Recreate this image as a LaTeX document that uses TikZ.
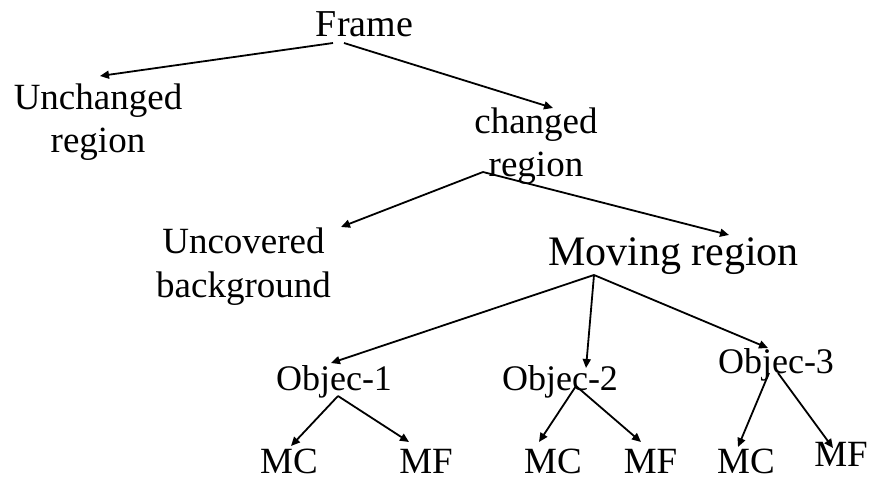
\documentclass[tikz,border=0pt]{standalone}
\usepackage{fontspec}
\setmainfont{Liberation Serif}
\usetikzlibrary{arrows.meta}
\begin{document}
\begin{tikzpicture}[x=1pt,y=-1pt,
  lbl/.style={anchor=base, inner sep=0pt, align=center, font=\fontsize{37}{43.5}\selectfont},
  arr/.style={line width=1.8pt, -{Triangle[length=9pt,width=8pt]}}]
\useasboundingbox (0,0) rectangle (872,481);
% nodes (multi-line nodes: base = baseline of last line)
\node[lbl, font=\fontsize{38}{44}\selectfont] (frame) at (364.5,37) {Frame};
\node[lbl] (unch) at (98,153) {Unchanged\\region};
\node[lbl] (chg) at (536,177) {changed\\region};
\node[lbl] (unc) at (243.5,297) {Uncovered\\background};
\node[lbl, font=\fontsize{42}{48}\selectfont] (mov) at (673.5,265) {Moving region};
\node[lbl, font=\fontsize{36}{42}\selectfont] (o1) at (334,390) {Objec-1};
\node[lbl, font=\fontsize{36}{42}\selectfont] (o2) at (560,390) {Objec-2};
\node[lbl, font=\fontsize{36}{42}\selectfont] (o3) at (776,373) {Objec-3};
\node[lbl] (mc1) at (289,473) {MC};
\node[lbl] (mf1) at (426,473) {MF};
\node[lbl] (mc2) at (553,473) {MC};
\node[lbl] (mf2) at (650.5,473) {MF};
\node[lbl] (mc3) at (746,473) {MC};
\node[lbl] (mf3) at (841,466) {MF};
% connector ends
\coordinate (fL) at (333,43);
\coordinate (fR) at (344,43);
\coordinate (tUnch) at (100,76);
\coordinate (tChg) at (553,108);
\coordinate (cS) at (483,172);
\coordinate (tUnc) at (341,227);
\coordinate (tMov) at (729,235);
\coordinate (mS) at (594,275);
\coordinate (tO1) at (331,363);
\coordinate (tO2) at (586,368);
\coordinate (tO3) at (768,348);
\coordinate (o1S) at (338,396);
\coordinate (tMC1) at (291,446);
\coordinate (tMF1) at (409,442);
\coordinate (o2S) at (576,386);
\coordinate (tMC2) at (539,442);
\coordinate (tMF2) at (641,442);
\coordinate (o3SL) at (769,373);
\coordinate (o3SR) at (778,373);
\coordinate (tMC3) at (738,447);
\coordinate (tMF3) at (833,448);
% connectors
\draw[arr] (fL) -- (tUnch);
\draw[arr] (fR) -- (tChg);
\draw[arr] (cS) -- (tUnc);
\draw[arr] (cS) -- (tMov);
\draw[arr] (mS) -- (tO1);
\draw[arr] (mS) -- (tO2);
\draw[arr] (mS) -- (tO3);
\draw[arr] (o1S) -- (tMC1);
\draw[arr] (o1S) -- (tMF1);
\draw[arr] (o2S) -- (tMC2);
\draw[arr] (o2S) -- (tMF2);
\draw[arr] (o3SL) -- (tMC3);
\draw[arr] (o3SR) -- (tMF3);
\end{tikzpicture}
\end{document}
